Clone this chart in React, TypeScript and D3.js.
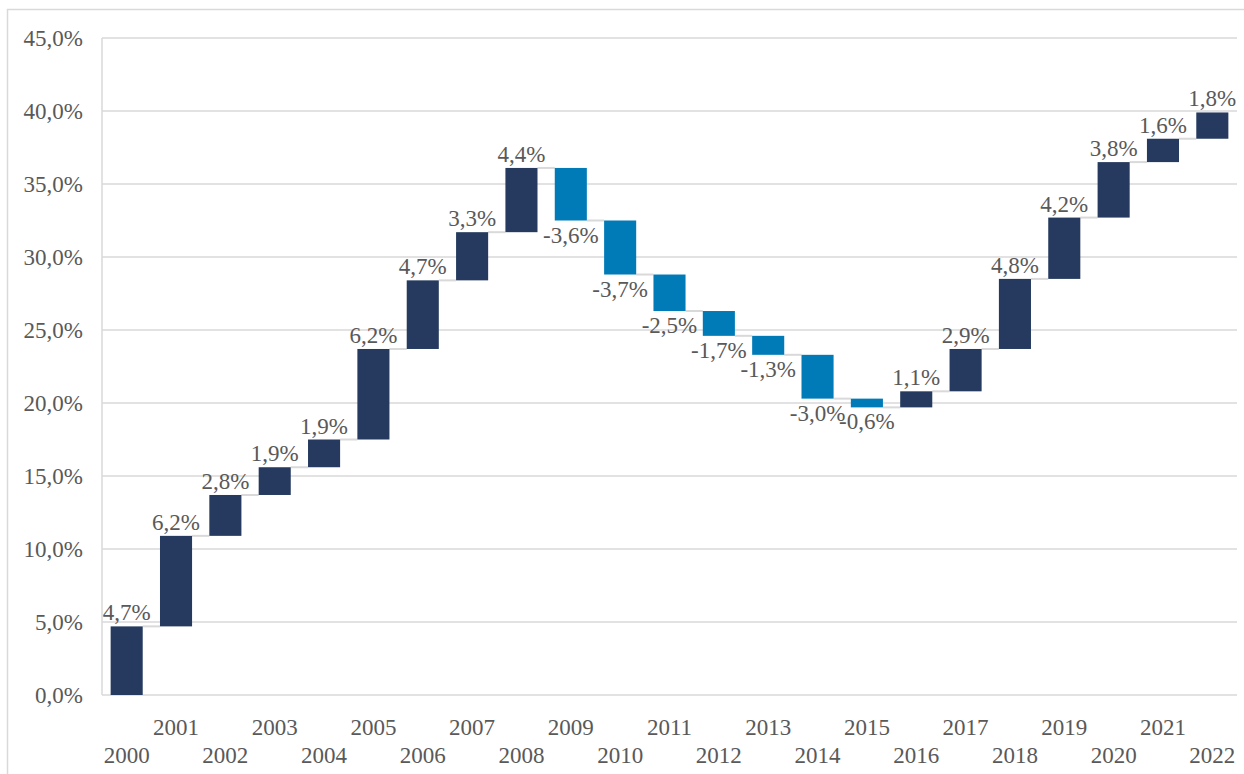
import React from 'react';
import * as d3 from 'd3';

// Waterfall of yearly change (percentage points).
const years = [
  '2000', '2001', '2002', '2003', '2004', '2005', '2006', '2007', '2008', '2009', '2010', '2011',
  '2012', '2013', '2014', '2015', '2016', '2017', '2018', '2019', '2020', '2021', '2022',
];
const changes = [
  4.7, 6.2, 2.8, 1.9, 1.9, 6.2, 4.7, 3.3, 4.4, -3.6, -3.7, -2.5,
  -1.7, -1.3, -3.0, -0.6, 1.1, 2.9, 4.8, 4.2, 3.8, 1.6, 1.8,
];
const yTicks = [0, 5, 10, 15, 20, 25, 30, 35, 40, 45];

const W = 1244;
const H = 774;
const margin = { top: 38, right: 7, bottom: 79, left: 102 };
const UP = '#253a5e';
const DOWN = '#007bb8';
const GRID = '#d9d9d9';
const TEXT = '#595959';
const FONT = 'Liberation Serif, Times New Roman, serif';
const FS = 23;

const fmt = (v: number) => `${v.toFixed(1).replace('.', ',')}%`;

export default function App() {
  const x = d3.scaleBand<string>()
    .domain(years)
    .range([margin.left, W - margin.right])
    .paddingInner(0.35)
    .paddingOuter(0.175);
  const y = d3.scaleLinear().domain([0, 45]).range([H - margin.bottom, margin.top]);

  // running start/end for each step
  let acc = 0;
  const steps = changes.map((c, i) => {
    const start = acc;
    acc += c;
    return { year: years[i], change: c, start, end: acc };
  });

  const bw = x.bandwidth();

  return (
    <svg width={W} height={H} style={{ position: 'absolute', left: 0, top: 0, fontFamily: FONT }}>
      <rect x={7.5} y={9.5} width={W + 20} height={H + 20} fill="#fff" stroke={GRID} strokeWidth={1.5} />

      {/* gridlines + y labels */}
      {yTicks.map((t) => (
        <g key={t}>
          <line x1={margin.left} x2={W - margin.right} y1={y(t)} y2={y(t)} stroke={GRID} strokeWidth={1.5} />
          <text x={83} y={y(t)} dy="0.35em" textAnchor="end" fontSize={FS} fill={TEXT}>{fmt(t)}</text>
        </g>
      ))}
      <line x1={margin.left} x2={margin.left} y1={y(45)} y2={y(0)} stroke={GRID} strokeWidth={1.5} />

      {/* connectors */}
      {steps.slice(0, -1).map((s, i) => (
        <line key={`c${i}`}
          x1={(x(s.year) ?? 0) + bw} x2={x(years[i + 1]) ?? 0}
          y1={y(s.end)} y2={y(s.end)}
          stroke={GRID} strokeWidth={2} />
      ))}

      {/* bars */}
      {steps.map((s) => (
        <rect key={s.year}
          x={x(s.year)} width={bw}
          y={y(Math.max(s.start, s.end))}
          height={Math.abs(y(s.start) - y(s.end))}
          fill={s.change >= 0 ? UP : DOWN} />
      ))}

      {/* value labels */}
      {steps.map((s) => {
        const cx = (x(s.year) ?? 0) + bw / 2;
        const pos = s.change >= 0;
        return (
          <text key={`l${s.year}`} x={cx} y={pos ? y(s.end) - 6 : y(s.end) + 22}
            textAnchor="middle" fontSize={FS} fill={TEXT}>{fmt(s.change)}</text>
        );
      })}

      {/* x labels, staggered */}
      {years.map((yr, i) => (
        <text key={`x${yr}`} x={(x(yr) ?? 0) + bw / 2} y={i % 2 === 0 ? 763 : 735}
          textAnchor="middle" fontSize={FS} fill={TEXT}>{yr}</text>
      ))}
    </svg>
  );
}
